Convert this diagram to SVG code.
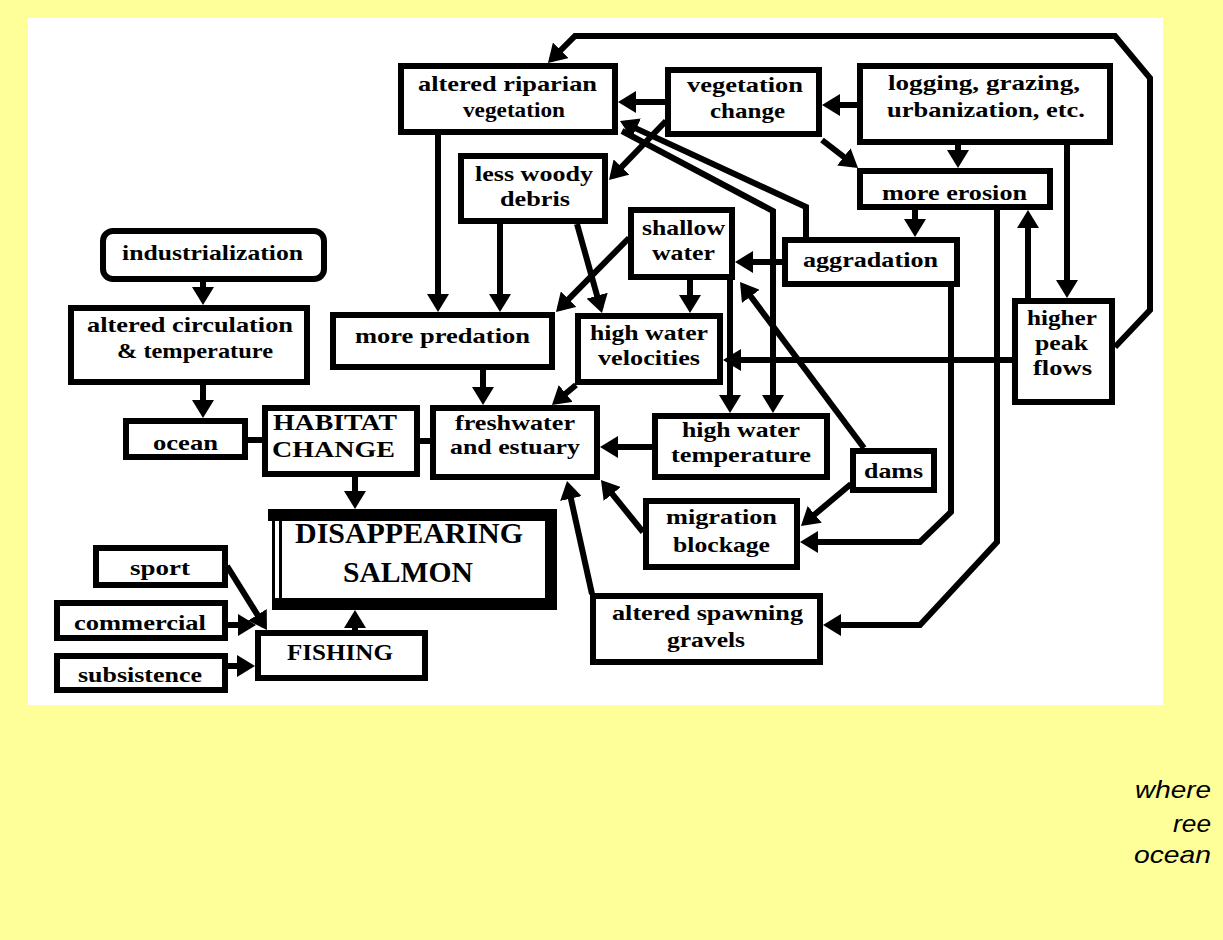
<svg xmlns="http://www.w3.org/2000/svg" width="1223" height="940" viewBox="0 0 1223 940">
  <style>
    .box { fill:#fff; stroke:#000; stroke-width:6; }
    .lbl { font-family:"Liberation Serif","Times New Roman",serif; font-weight:bold; font-size:22px; fill:#000; }
    .cap { font-size:24px; }
    .big { font-size:29px; }
    .wire { fill:none; stroke:#000; stroke-width:6; stroke-linejoin:miter; }
    .arr { marker-end:url(#ah); }
    .note { font-family:"Liberation Sans",Arial,sans-serif; font-style:italic; font-size:24px; fill:#000; text-anchor:end; }
  </style>
  <defs>
    <marker id="ah" markerUnits="userSpaceOnUse" markerWidth="18" markerHeight="22" viewBox="0 0 18 22" refX="13" refY="11" orient="auto">
      <path d="M0,0 L18,11 L0,22 z" fill="#000"/>
    </marker>
  </defs>

  <!-- page and panel -->
  <rect x="0" y="0" width="1223" height="940" fill="#FFFF99"/>
  <rect x="28" y="18" width="1135" height="687" fill="#fff"/>

  <!-- connectors -->
  <g id="connectors">
    <path class="wire arr" d="M665,102 H623"/>
    <path class="wire arr" d="M857,105 H827"/>
    <path class="wire arr" d="M958,145 V163"/>
    <path class="wire arr" d="M1067,145 V293"/>
    <path class="wire arr" d="M1028,298 V215"/>
    <path class="wire arr" d="M915,210 V232"/>
    <path class="wire arr" d="M782,262 H740"/>
    <path class="wire arr" d="M1012,360 H728"/>
    <path class="wire arr" d="M438,135 V307"/>
    <path class="wire arr" d="M500,224 V307"/>
    <path class="wire arr" d="M690,280 V308"/>
    <path class="wire arr" d="M730,280 V408"/>
    <path class="wire arr" d="M483,370 V400"/>
    <path class="wire arr" d="M652,447 H605"/>
    <path class="wire arr" d="M203,282 V300"/>
    <path class="wire arr" d="M203,385 V413"/>
    <path class="wire arr" d="M355,477 V504"/>
    <path class="wire arr" d="M355,630 V615"/>
    <path class="wire arr" d="M228,625 H251"/>
    <path class="wire arr" d="M228,666 H250"/>
    <path class="wire arr" d="M622,131 L773,211 V408"/>
    <path class="wire arr" d="M806,237 V207 L624.5,123.1"/>
    <path class="wire arr" d="M1115,347 L1150,310 V78 L1115,36 H575 L551.5,59.5"/>
    <path class="wire arr" d="M951,287 V512 L920,542 H805"/>
    <path class="wire arr" d="M997,210 V542 L920,625 H828"/>
    <path class="wire arr" d="M822,140 L854.1,164.9"/>
    <path class="wire arr" d="M666,121 L612.5,176.4"/>
    <path class="wire arr" d="M629,238 L559.5,308.4"/>
    <path class="wire arr" d="M577,224 L600.6,308.2"/>
    <path class="wire arr" d="M576,385 L555.8,401.8"/>
    <path class="wire arr" d="M864,448 L743,286"/>
    <path class="wire arr" d="M851,484 L804.8,522.8"/>
    <path class="wire arr" d="M643,532 L604.1,483.9"/>
    <path class="wire arr" d="M592,594 L568.1,485.9"/>
    <path class="wire arr" d="M227,566 L264.3,625.8"/>
    <path class="wire" d="M248,440 H262"/>
    <path class="wire" d="M420,441 H430"/>
  </g>

  <!-- nodes -->
  <g id="riparian">
    <rect class="box" x="401" y="66" width="214" height="66"/>
    <text class="lbl" x="418" y="91" textLength="179" lengthAdjust="spacingAndGlyphs">altered riparian</text>
    <text class="lbl" x="463" y="117" textLength="102" lengthAdjust="spacingAndGlyphs">vegetation</text>
  </g>
  <g id="vegetation-change">
    <rect class="box" x="668" y="70" width="151" height="64"/>
    <text class="lbl" x="687" y="92" textLength="116" lengthAdjust="spacingAndGlyphs">vegetation</text>
    <text class="lbl" x="710" y="118" textLength="75" lengthAdjust="spacingAndGlyphs">change</text>
  </g>
  <g id="logging">
    <rect class="box" x="860" y="66" width="250" height="76"/>
    <text class="lbl" x="888" y="90" textLength="192" lengthAdjust="spacingAndGlyphs">logging, grazing,</text>
    <text class="lbl" x="887" y="117" textLength="198" lengthAdjust="spacingAndGlyphs">urbanization, etc.</text>
  </g>
  <g id="erosion">
    <rect class="box" x="860" y="171" width="190" height="36"/>
    <text class="lbl" x="882" y="200" textLength="145" lengthAdjust="spacingAndGlyphs">more erosion</text>
  </g>
  <g id="woody-debris">
    <rect class="box" x="461" y="156" width="144" height="65"/>
    <text class="lbl" x="475" y="181" textLength="118" lengthAdjust="spacingAndGlyphs">less woody</text>
    <text class="lbl" x="500" y="206" textLength="70" lengthAdjust="spacingAndGlyphs">debris</text>
  </g>
  <g id="shallow-water">
    <rect class="box" x="631" y="210" width="101" height="67"/>
    <text class="lbl" x="642" y="235" textLength="83" lengthAdjust="spacingAndGlyphs">shallow</text>
    <text class="lbl" x="652" y="260" textLength="63" lengthAdjust="spacingAndGlyphs">water</text>
  </g>
  <g id="aggradation">
    <rect class="box" x="785" y="240" width="172" height="44"/>
    <text class="lbl" x="803" y="267" textLength="135" lengthAdjust="spacingAndGlyphs">aggradation</text>
  </g>
  <g id="peak-flows">
    <rect class="box" x="1015" y="301" width="97" height="101"/>
    <text class="lbl" x="1027" y="325" textLength="70" lengthAdjust="spacingAndGlyphs">higher</text>
    <text class="lbl" x="1035" y="350" textLength="53" lengthAdjust="spacingAndGlyphs">peak</text>
    <text class="lbl" x="1033" y="375" textLength="59" lengthAdjust="spacingAndGlyphs">flows</text>
  </g>
  <g id="industrialization">
    <rect class="box" x="103" y="231" width="221" height="48" rx="10" ry="10"/>
    <text class="lbl" x="122" y="260" textLength="181" lengthAdjust="spacingAndGlyphs">industrialization</text>
  </g>
  <g id="circulation">
    <rect class="box" x="71" y="308" width="236" height="74"/>
    <text class="lbl" x="87" y="332" textLength="206" lengthAdjust="spacingAndGlyphs">altered circulation</text>
    <text class="lbl" x="117" y="358" textLength="156" lengthAdjust="spacingAndGlyphs">&amp; temperature</text>
  </g>
  <g id="predation">
    <rect class="box" x="333" y="315" width="219" height="52"/>
    <text class="lbl" x="355" y="343" textLength="175" lengthAdjust="spacingAndGlyphs">more predation</text>
  </g>
  <g id="velocities">
    <rect class="box" x="578" y="316" width="142" height="66"/>
    <text class="lbl" x="590" y="340" textLength="118" lengthAdjust="spacingAndGlyphs">high water</text>
    <text class="lbl" x="598" y="365" textLength="102" lengthAdjust="spacingAndGlyphs">velocities</text>
  </g>
  <g id="ocean">
    <rect class="box" x="126" y="421" width="119" height="36"/>
    <text class="lbl" x="153" y="450" textLength="65" lengthAdjust="spacingAndGlyphs">ocean</text>
  </g>
  <g id="habitat-change">
    <rect class="box" x="265" y="408" width="152" height="66"/>
    <text class="lbl cap" x="273" y="430" textLength="124" lengthAdjust="spacingAndGlyphs">HABITAT</text>
    <text class="lbl cap" x="272" y="457" textLength="123" lengthAdjust="spacingAndGlyphs">CHANGE</text>
  </g>
  <g id="freshwater">
    <rect class="box" x="433" y="408" width="164" height="69"/>
    <text class="lbl" x="455" y="430" textLength="120" lengthAdjust="spacingAndGlyphs">freshwater</text>
    <text class="lbl" x="450" y="454" textLength="130" lengthAdjust="spacingAndGlyphs">and estuary</text>
  </g>
  <g id="water-temperature">
    <rect class="box" x="655" y="416" width="172" height="61"/>
    <text class="lbl" x="682" y="437" textLength="118" lengthAdjust="spacingAndGlyphs">high water</text>
    <text class="lbl" x="671" y="462" textLength="140" lengthAdjust="spacingAndGlyphs">temperature</text>
  </g>
  <g id="dams">
    <rect class="box" x="853" y="451" width="81" height="39"/>
    <text class="lbl" x="864" y="478" textLength="59" lengthAdjust="spacingAndGlyphs">dams</text>
  </g>
  <g id="migration">
    <rect class="box" x="646" y="501" width="151" height="66"/>
    <text class="lbl" x="666" y="524" textLength="111" lengthAdjust="spacingAndGlyphs">migration</text>
    <text class="lbl" x="673" y="552" textLength="97" lengthAdjust="spacingAndGlyphs">blockage</text>
  </g>
  <g id="salmon">
    <rect x="268" y="509" width="289" height="101" fill="#000"/>
    <rect x="268" y="521" width="4" height="89" fill="#fff"/>
    <rect x="275" y="521" width="4" height="77" fill="#fff"/>
    <rect x="282" y="521" width="263" height="77" fill="#fff"/>
    <text class="lbl big" x="295" y="543" textLength="228" lengthAdjust="spacingAndGlyphs">DISAPPEARING</text>
    <text class="lbl big" x="343" y="582" textLength="130" lengthAdjust="spacingAndGlyphs">SALMON</text>
  </g>
  <g id="gravels">
    <rect class="box" x="593" y="596" width="227" height="66"/>
    <text class="lbl" x="612" y="620" textLength="191" lengthAdjust="spacingAndGlyphs">altered spawning</text>
    <text class="lbl" x="667" y="647" textLength="78" lengthAdjust="spacingAndGlyphs">gravels</text>
  </g>
  <g id="sport">
    <rect class="box" x="96" y="548" width="129" height="37"/>
    <text class="lbl" x="130" y="575" textLength="60" lengthAdjust="spacingAndGlyphs">sport</text>
  </g>
  <g id="commercial">
    <rect class="box" x="57" y="603" width="168" height="35"/>
    <text class="lbl" x="74" y="630" textLength="132" lengthAdjust="spacingAndGlyphs">commercial</text>
  </g>
  <g id="subsistence">
    <rect class="box" x="57" y="656" width="168" height="34"/>
    <text class="lbl" x="78" y="682" textLength="124" lengthAdjust="spacingAndGlyphs">subsistence</text>
  </g>
  <g id="fishing">
    <rect class="box" x="258" y="633" width="167" height="45"/>
    <text class="lbl cap" x="287" y="660" textLength="106" lengthAdjust="spacingAndGlyphs">FISHING</text>
  </g>

  <!-- side note -->
  <g id="note">
    <text class="note" x="1211" y="798" textLength="76" lengthAdjust="spacingAndGlyphs">where</text>
    <text class="note" x="1211" y="832" textLength="38" lengthAdjust="spacingAndGlyphs">ree</text>
    <text class="note" x="1211" y="863" textLength="77" lengthAdjust="spacingAndGlyphs">ocean</text>
  </g>
</svg>
